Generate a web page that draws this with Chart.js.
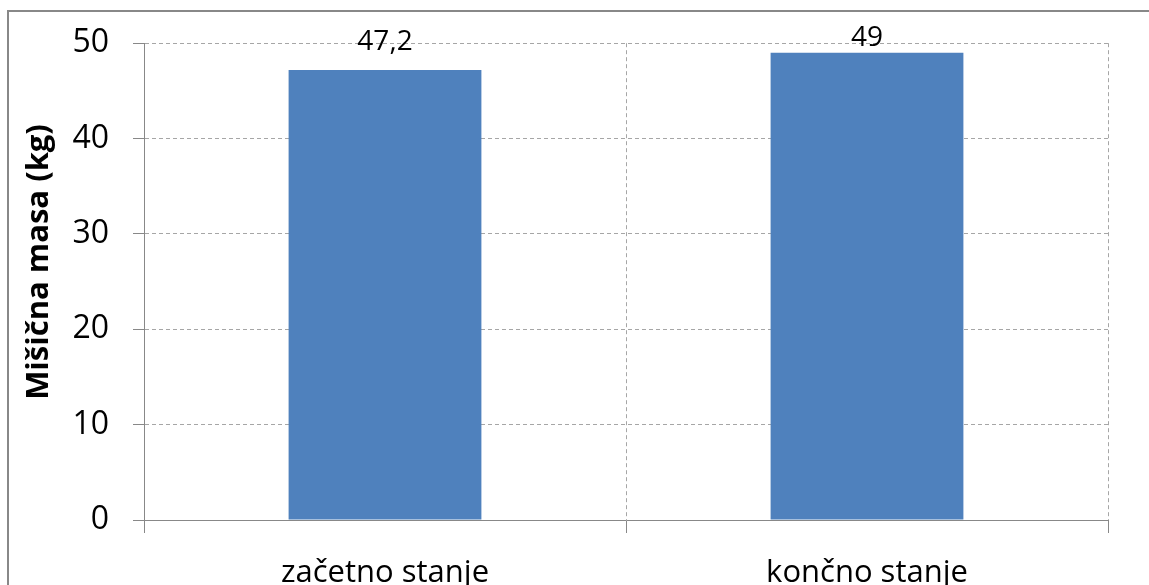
<!DOCTYPE html>
<html>
<head>
<meta charset="utf-8">
<script src="https://cdn.jsdelivr.net/npm/chart.js@4/dist/chart.umd.min.js"></script>
<style>
  html, body { margin: 0; padding: 0; background: #ffffff; }
  canvas { display: block; }
</style>
</head>
<body>
<canvas id="c" width="1149" height="585"></canvas>
<script>
const categories = ['začetno stanje', 'končno stanje'];
const values = [47.2, 49];
const yTicks = [0, 10, 20, 30, 40, 50];
const yTitle = 'Mišična masa (kg)';

const FONT = "'Open Sans', 'DejaVu Sans', sans-serif";

const framePlugin = {
  id: 'frame',
  beforeDraw(chart) {
    const ctx = chart.ctx;
    ctx.save();
    ctx.fillStyle = '#ffffff';
    ctx.fillRect(0, 0, chart.width, chart.height);
    ctx.strokeStyle = '#888888';
    ctx.lineWidth = 2;
    ctx.strokeRect(8, 11, chart.width + 20, chart.height + 20);
    ctx.restore();
  }
};

const labelPlugin = {
  id: 'valueLabels',
  afterDatasetsDraw(chart, args, opts) {
    const ctx = chart.ctx;
    const meta = chart.getDatasetMeta(0);
    ctx.save();
    ctx.font = opts.font;
    ctx.fillStyle = opts.color;
    ctx.textAlign = 'center';
    ctx.textBaseline = 'alphabetic';
    meta.data.forEach((bar, i) => {
      const v = chart.data.datasets[0].data[i];
      const txt = String(v).replace('.', ',');
      ctx.fillText(txt, bar.x, bar.y - opts.gaps[i]);
    });
    ctx.restore();
  }
};

const axisTitlePlugin = {
  id: 'axisTitle',
  afterDraw(chart, args, opts) {
    const ctx = chart.ctx;
    ctx.save();
    ctx.font = opts.font;
    ctx.fillStyle = opts.color;
    ctx.textAlign = 'center';
    ctx.textBaseline = 'middle';
    ctx.translate(opts.x, opts.y);
    ctx.rotate(-Math.PI / 2);
    ctx.fillText(opts.text, 0, 0);
    ctx.restore();
  }
};

new Chart(document.getElementById('c'), {
  type: 'bar',
  data: {
    labels: categories,
    datasets: [{
      data: values,
      backgroundColor: '#4F81BD',
      borderWidth: 0,
      categoryPercentage: 1.0,
      barPercentage: 0.4
    }]
  },
  options: {
    responsive: false,
    animation: false,
    devicePixelRatio: 1,
    layout: { padding: { top: 41, right: 41, left: 0, bottom: 0 } },
    plugins: {
      legend: { display: false },
      tooltip: { enabled: false },
      valueLabels: { font: "28px " + FONT, color: '#000000', gaps: [20, 7] },
      axisTitle: { text: yTitle, font: "bold 31px " + FONT, color: '#000000', x: 39, y: 262 }
    },
    scales: {
      x: {
        offset: true,
        grid: {
          display: true,
          offset: true,
          color: '#a6a6a6',
          tickColor: '#888888',
          tickLength: 13,
          lineWidth: 1
        },
        border: { display: true, color: '#888888', width: 1, dash: [4, 3] },
        ticks: {
          font: { family: FONT, size: 31 },
          color: '#000000',
          padding: 22,
          maxRotation: 0
        },
        afterFit(scale) { scale.height = 65; }
      },
      y: {
        min: 0,
        max: 50,
        afterBuildTicks(scale) { scale.ticks = yTicks.map(v => ({ value: v })); },
        grid: {
          color: '#a6a6a6',
          tickColor: '#888888',
          tickLength: 11,
          lineWidth: 1
        },
        border: { display: true, color: '#888888', width: 1, dash: [4, 3] },
        ticks: {
          font: { family: FONT, size: 32 },
          color: '#000000',
          padding: 24
        },
        afterFit(scale) { scale.width = 144; }
      }
    }
  },
  plugins: [framePlugin, labelPlugin, axisTitlePlugin]
});
</script>
</body>
</html>
